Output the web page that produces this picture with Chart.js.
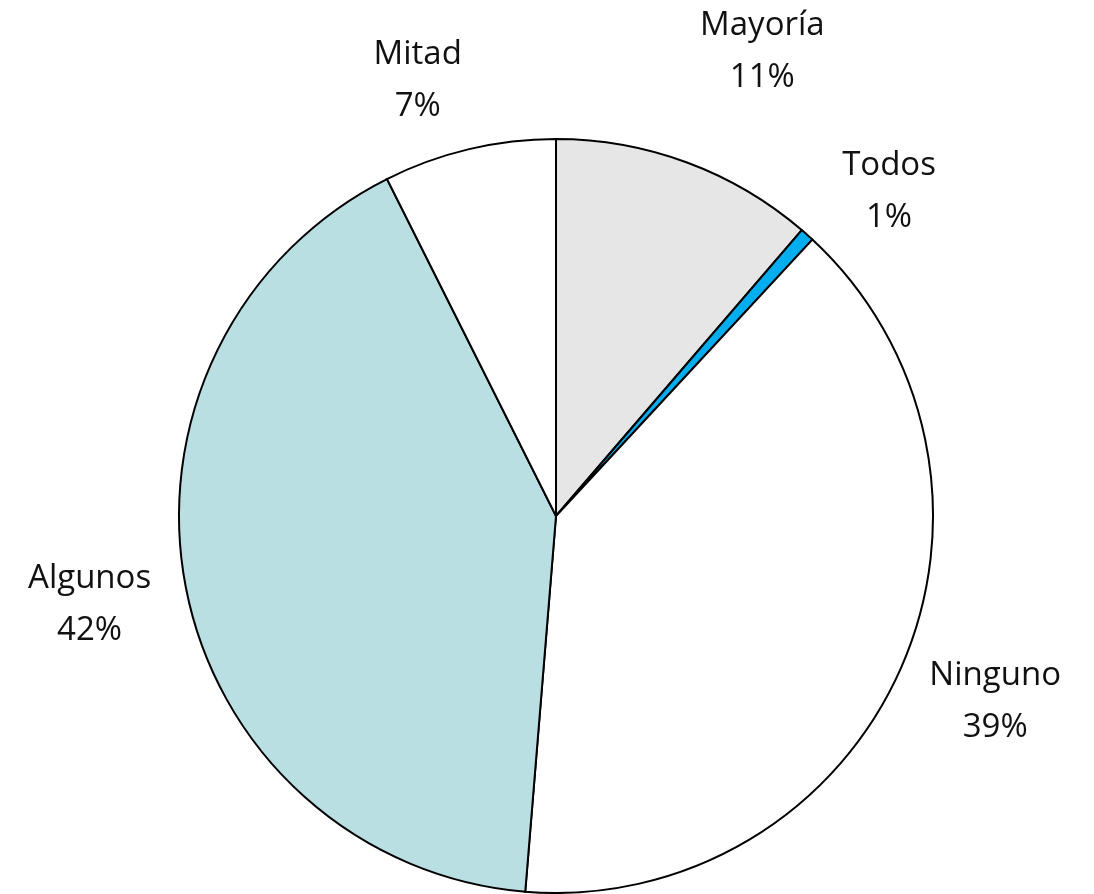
<!DOCTYPE html>
<html>
<head>
<meta charset="utf-8">
<script src="https://cdn.jsdelivr.net/npm/chart.js@4/dist/chart.umd.min.js"></script>
<style>
    html, body { margin: 0; padding: 0; background: #fff; }
    #wrap { width: 1094px; height: 894px; position: relative; }
</style>
</head>
<body>
<div id="wrap"><canvas id="chart"></canvas></div>
<script>
// data, clockwise from 12 o'clock
var categories = ['Mayoría', 'Todos', 'Ninguno', 'Algunos', 'Mitad'];
var shares = [11.3, 0.6, 39.4, 41.3, 7.4];
var shareLabels = ['11%', '1%', '39%', '42%', '7%'];
var sliceColors = ['#e6e6e6', '#00aeef', '#ffffff', '#b9dfe3', '#ffffff'];

// draws "name / pct" outside each slice, centred on the mid angle
var outsideLabels = {
    id: 'outsideLabels',
    afterDatasetsDraw(chart, args, opts) {
        var ctx = chart.ctx;
        var meta = chart.getDatasetMeta(0);
        ctx.save();
        ctx.font = opts.size + 'px ' + opts.family;
        ctx.fillStyle = '#111';
        ctx.textAlign = 'center';
        ctx.textBaseline = 'middle';
        meta.data.forEach(function (arc, i) {
            var p = arc.getProps(['x', 'y', 'startAngle', 'endAngle', 'outerRadius'], true);
            var mid = (p.startAngle + p.endAngle) / 2;
            var r = p.outerRadius + opts.gap;
            var n = (opts.nudge && opts.nudge[i]) || [0, 0];
            var cx = p.x + Math.cos(mid) * r + n[0];
            var cy = p.y + Math.sin(mid) * r + n[1];
            ctx.fillText(categories[i], cx, cy - opts.lineHeight / 2);
            ctx.fillText(shareLabels[i], cx, cy + opts.lineHeight / 2);
        });
        ctx.restore();
    }
};

var chart = new Chart(document.getElementById('chart'), {
    type: 'pie',
    data: {
        labels: categories,
        datasets: [{
            data: shares,
            backgroundColor: sliceColors,
            borderColor: '#000',
            borderWidth: 2,
            borderJoinStyle: 'miter'
        }]
    },
    options: {
        responsive: true,
        maintainAspectRatio: false,
        animation: false,
        layout: { padding: { top: 138, bottom: 0, left: 18, right: 0 } },
        plugins: {
            legend: { display: false },
            tooltip: { enabled: false },
            outsideLabels: {
                family: '"Open Sans", "Noto Sans", sans-serif',
                size: 33,
                lineHeight: 52,
                gap: 93,
                nudge: { 0: [43, -24], 1: [20, 26], 2: [9, -4], 3: [-5, -1], 4: [-30, 22] }
            }
        }
    },
    plugins: [outsideLabels]
});
</script>
</body>
</html>
